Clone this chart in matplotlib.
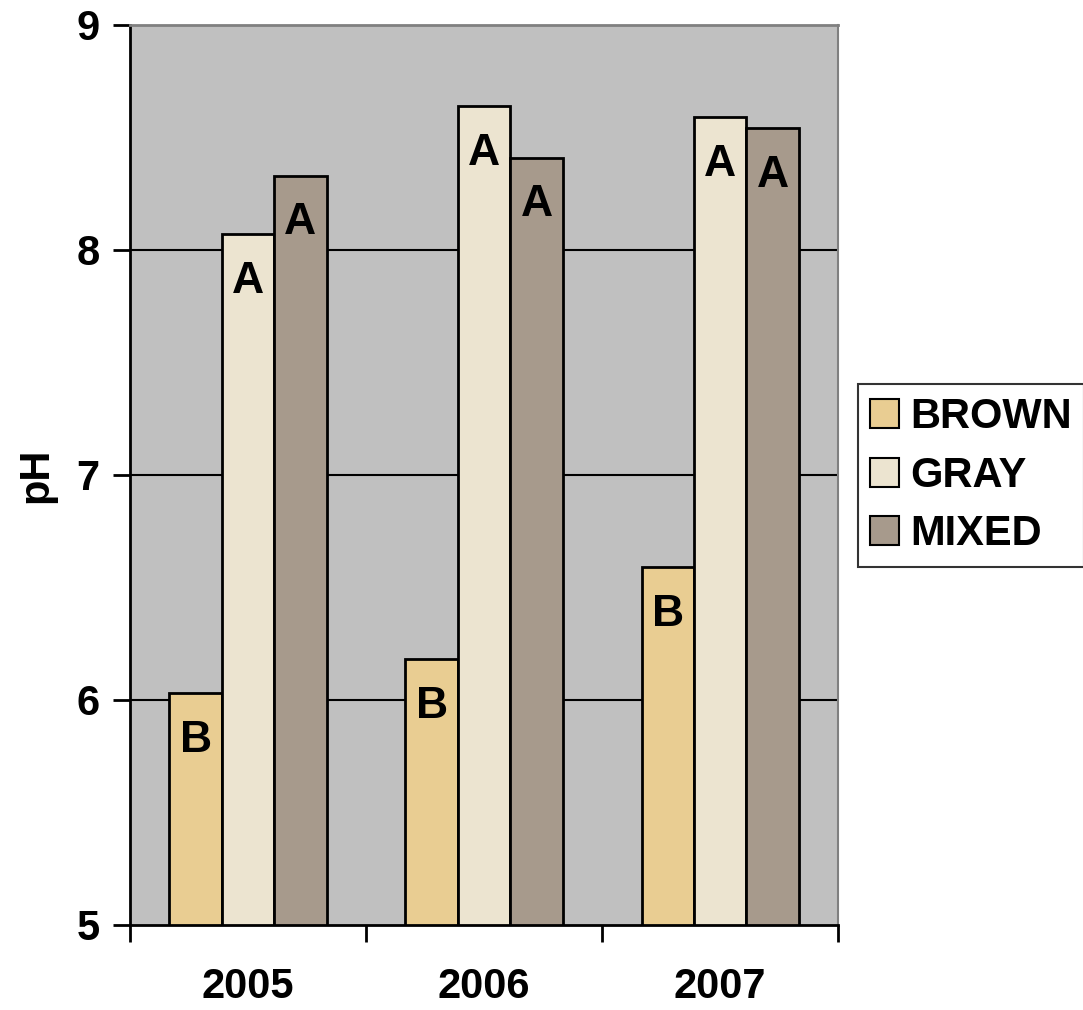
import matplotlib
matplotlib.use("Agg")
import matplotlib.pyplot as plt
import numpy as np

years = ["2005", "2006", "2007"]
series = ["BROWN", "GRAY", "MIXED"]
brown = [6.03, 6.18, 6.59]
gray = [8.07, 8.64, 8.59]
mixed = [8.33, 8.41, 8.54]
letters_brown = ["B", "B", "B"]
letters_gray = ["A", "A", "A"]
letters_mixed = ["A", "A", "A"]
yticks = [5, 6, 7, 8, 9]

plt.rcParams['font.family'] = ['Liberation Sans', 'DejaVu Sans']
plt.rcParams['font.weight'] = 'bold'

fig = plt.figure(figsize=(10.83, 10.10), dpi=100)
ax = fig.add_axes([0.120, 0.0842, 0.654, 0.8911])
ax.set_facecolor("#C0C0C0")

colors = ["#E9CD92", "#ECE4D0", "#A79A8C"]
values = [brown, gray, mixed]
letters = [letters_brown, letters_gray, letters_mixed]
x = np.arange(len(years))
w = 0.222
for i, (vals, col, lab, lets) in enumerate(zip(values, colors, series, letters)):
    pos = x + (i - 1) * w
    ax.bar(pos, [v - 5 for v in vals], width=w, bottom=5, color=col,
           edgecolor="black", linewidth=2, label=lab, zorder=3)
    for px, v, t in zip(pos, vals, lets):
        ax.annotate(t, (px, v), xytext=(0, -34), textcoords="offset points",
                    ha="center", va="center", fontsize=32, fontweight="bold",
                    zorder=4)

ax.set_ylim(5, 9)
ax.set_xlim(-0.5, 2.5)
ax.set_yticks(yticks)
ax.set_yticklabels([str(t) for t in yticks], fontsize=30, fontweight="bold")
for t in [6, 7, 8]:
    ax.axhline(t, color="black", linewidth=1.5, zorder=1)

ax.set_xticks([-0.5, 0.5, 1.5, 2.5])
ax.set_xticklabels([])
ax.set_xticks(x, minor=True)
ax.set_xticklabels(years, minor=True, fontsize=30, fontweight="bold")
ax.tick_params(axis="x", which="minor", length=0, pad=30)
ax.tick_params(axis="x", which="major", length=12, width=2, direction="out")
ax.tick_params(axis="y", length=12, width=2, direction="out", pad=10)

ax.spines["left"].set_linewidth(2)
ax.spines["bottom"].set_linewidth(2)
ax.spines["top"].set_color("#808080")
ax.spines["right"].set_color("#808080")
ax.spines["top"].set_linewidth(2)
ax.spines["right"].set_linewidth(1.5)

ax.set_ylabel("pH", fontsize=30, fontweight="bold", labelpad=14)

leg = fig.legend(loc="center left", bbox_to_anchor=(0.792, 0.529),
                 fontsize=30, frameon=True, fancybox=False, edgecolor="black",
                 handlelength=0.7, handleheight=0.7, handletextpad=0.25,
                 labelspacing=0.45, borderpad=0.3, borderaxespad=0)
leg.get_frame().set_linewidth(1.5)
for h in leg.legend_handles:
    h.set_linewidth(1.5)
for t in leg.get_texts():
    t.set_fontweight("bold")

fig.savefig("out.png", dpi=100)
